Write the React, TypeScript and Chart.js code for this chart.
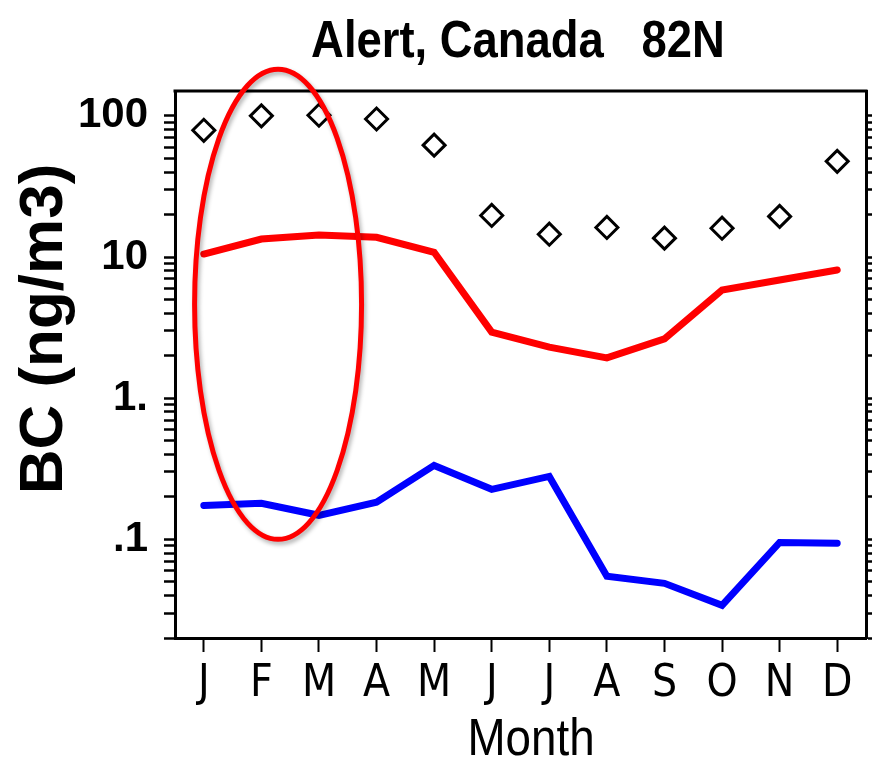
import React, { useEffect, useRef } from 'react';
import { Chart, registerables } from 'chart.js';

Chart.register(...registerables);

const months = ['J', 'F', 'M', 'A', 'M', 'J', 'J', 'A', 'S', 'O', 'N', 'D'];
const observed = [79, 100, 101, 95, 62, 19.7, 14.5, 16.2, 13.6, 16, 19.4, 47.6];
const modelRed = [10.5, 13.4, 14.3, 13.8, 10.8, 2.94, 2.3, 1.93, 2.63, 5.84, 6.87, 8.1];
const modelBlue = [0.174, 0.18, 0.148, 0.183, 0.334, 0.226, 0.279, 0.0547, 0.0488, 0.0341, 0.095, 0.0937];
const yTickValues = [
  0.02, 0.03, 0.04, 0.05, 0.06, 0.07, 0.08, 0.09,
  0.1, 0.2, 0.3, 0.4, 0.5, 0.6, 0.7, 0.8, 0.9,
  1, 2, 3, 4, 5, 6, 7, 8, 9,
  10, 20, 30, 40, 50, 60, 70, 80, 90,
  100,
];
const yMajorValues = [0.1, 1, 10, 100];
const yMajorLabels = ['.1', '1.', '10', '100'];
const yMin = 0.02;
const yMax = 150;
const titleText = 'Alert, Canada   82N';
const yTitleText = 'BC (ng/m3)';
const xTitleText = 'Month';
// highlighted region (category index range, value range)
const highlightIndex = [-0.16, 2.74];
const highlightValue = [0.1, 214];

const SANS = "'Liberation Sans', Arial, sans-serif";
const COND = "'DejaVu Sans Condensed', 'Liberation Sans', sans-serif";

const labelOf = (v: number) => {
  const i = yMajorValues.findIndex((m) => Math.abs(m - v) / m < 1e-6);
  return i >= 0 ? yMajorLabels[i] : '';
};

const drawSquished = (ctx: any, text: string, cx: number, baseline: number, font: string, sx: number) => {
  ctx.save();
  ctx.translate(cx, baseline);
  ctx.scale(sx, 1);
  ctx.font = font;
  ctx.textAlign = 'center';
  ctx.textBaseline = 'alphabetic';
  ctx.fillText(text, 0, 0);
  ctx.restore();
};

const decorPlugin = {
  id: 'decor',
  afterDraw(chart: any) {
    const { ctx, chartArea, scales } = chart;
    ctx.save();
    // top frame
    ctx.strokeStyle = '#000';
    ctx.lineWidth = 3;
    ctx.beginPath();
    ctx.moveTo(chartArea.left - 1.5, chartArea.top);
    ctx.lineTo(chartArea.right + 1.5, chartArea.top);
    ctx.stroke();

    ctx.fillStyle = '#000';
    drawSquished(ctx, titleText, 518, 57, `bold 52px ${SANS}`, 0.873);
    drawSquished(ctx, xTitleText, 531, 755, `52px ${SANS}`, 0.88);

    // y title
    ctx.save();
    ctx.translate(62, 329);
    ctx.rotate(-Math.PI / 2);
    ctx.font = `bold 62px ${SANS}`;
    ctx.textAlign = 'center';
    ctx.textBaseline = 'alphabetic';
    ctx.fillText(yTitleText, 0, 0);
    ctx.restore();

    // highlight ellipse
    const xa = scales.x.getPixelForValue(highlightIndex[0]);
    const xb = scales.x.getPixelForValue(highlightIndex[1]);
    const ya = scales.y.getPixelForValue(highlightValue[1]);
    const yb = scales.y.getPixelForValue(highlightValue[0]);
    ctx.shadowColor = 'rgba(0,0,0,0.3)';
    ctx.shadowBlur = 4;
    ctx.shadowOffsetX = 2;
    ctx.shadowOffsetY = 3;
    ctx.strokeStyle = '#ff0000';
    ctx.lineWidth = 5;
    ctx.beginPath();
    ctx.ellipse((xa + xb) / 2, (ya + yb) / 2, (xb - xa) / 2, (yb - ya) / 2, 0, 0, Math.PI * 2);
    ctx.stroke();
    ctx.restore();
  },
};

const setTicks = (scale: any) => {
  scale.ticks = yTickValues.map((v) => ({ value: v, major: yMajorValues.includes(v) }));
};

export default function App() {
  const ref = useRef<HTMLCanvasElement | null>(null);
  useEffect(() => {
    if (!ref.current) return;
    const chart = new Chart(ref.current, {
      type: 'line',
      data: {
        labels: months,
        datasets: [
          {
            data: modelRed,
            borderColor: '#ff0000',
            borderWidth: 7,
            pointRadius: 0,
            borderCapStyle: 'round',
            borderJoinStyle: 'miter',
            fill: false,
            tension: 0,
          },
          {
            data: modelBlue,
            borderColor: '#0000ff',
            borderWidth: 7,
            pointRadius: 0,
            borderCapStyle: 'round',
            borderJoinStyle: 'miter',
            fill: false,
            tension: 0,
          },
          {
            data: observed,
            showLine: false,
            pointStyle: 'rectRot',
            pointRadius: 11,
            pointBorderWidth: 3,
            pointBorderColor: '#000',
            pointBackgroundColor: 'rgba(255,255,255,0)',
            borderColor: '#000',
          },
        ],
      },
      options: {
        responsive: false,
        animation: false,
        devicePixelRatio: 1,
        layout: { autoPadding: false, padding: { top: 91, left: 0, right: 0, bottom: 0 } },
        plugins: { legend: { display: false }, tooltip: { enabled: false }, title: { display: false } },
        scales: {
          x: {
            type: 'category',
            offset: true,
            grid: { offset: false, drawOnChartArea: false, tickLength: 14, tickWidth: 2, tickColor: '#000' },
            border: { display: true, color: '#000', width: 3 },
            ticks: { color: '#000', font: { family: COND, size: 44 }, padding: 6, maxRotation: 0, autoSkip: false },
            afterFit: (s: any) => { s.height = 120; s.paddingLeft = 0; s.paddingRight = 0; },
          },
          y: {
            type: 'logarithmic',
            position: 'left',
            min: yMin,
            max: yMax,
            afterBuildTicks: setTicks,
            grid: { drawOnChartArea: false, tickLength: 11, tickWidth: 2.5, tickColor: '#000' },
            border: { display: true, color: '#000', width: 3 },
            ticks: {
              color: '#000',
              font: { family: SANS, size: 42, weight: 'bold' },
              padding: 16,
              autoSkip: false,
              callback: (v: any) => labelOf(Number(v)),
            },
            afterFit: (s: any) => { s.width = 175; s.paddingTop = 0; s.paddingBottom = 0; },
          },
          y2: {
            type: 'logarithmic',
            position: 'right',
            min: yMin,
            max: yMax,
            afterBuildTicks: setTicks,
            grid: { drawOnChartArea: false, tickLength: 11, tickWidth: 2.5, tickColor: '#000' },
            border: { display: true, color: '#000', width: 3 },
            ticks: { display: false, autoSkip: false },
            afterFit: (s: any) => { s.width = 6; s.paddingTop = 0; s.paddingBottom = 0; },
          },
        },
      },
      plugins: [decorPlugin],
    } as any);
    return () => chart.destroy();
  }, []);
  return (
    <div style={{ position: 'fixed', left: 0, top: 0, width: 872, height: 758, background: '#fff' }}>
      <canvas ref={ref} width={872} height={758} style={{ display: 'block' }} />
    </div>
  );
}
